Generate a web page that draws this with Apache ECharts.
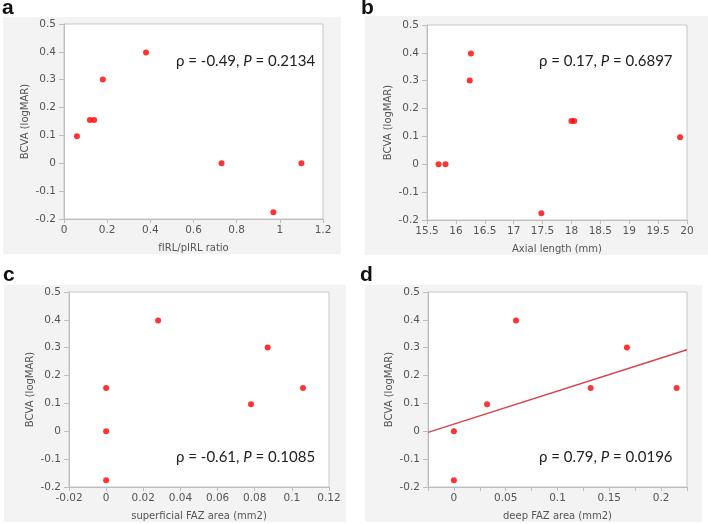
<!DOCTYPE html>
<html>
<head>
<meta charset="utf-8">
<script src="https://cdn.jsdelivr.net/npm/echarts@6/dist/echarts.min.js"></script>
<style>html,body{margin:0;padding:0;background:#fff;}#c{width:708px;height:524px;}</style>
</head>
<body>
<div id="c"></div>
<script>
// ---- data ----
const yTickMin = -0.2, yTickMax = 0.5, yTickStep = 0.1;
const yName = 'BCVA (logMAR)';

const aName = 'fIRL/pIRL ratio';
const aX = [0.06, 0.12, 0.14, 0.18, 0.38, 0.73, 0.97, 1.10];
const aY = [0.097, 0.155, 0.155, 0.301, 0.398, 0.0, -0.176, 0.0];
const aStat = ['-0.49', '0.2134'];

const bName = 'Axial length (mm)';
const bX = [15.70, 15.82, 16.24, 16.26, 17.48, 18.00, 18.05, 19.88];
const bY = [0.0, 0.0, 0.301, 0.398, -0.176, 0.155, 0.155, 0.097];
const bStat = ['0.17', '0.6897'];

const cName = 'superficial FAZ area (mm2)';
const cX = [0.0, 0.0, 0.0, 0.028, 0.078, 0.087, 0.106];
const cY = [0.155, 0.0, -0.176, 0.398, 0.097, 0.301, 0.155];
const cStat = ['-0.61', '0.1085'];

const dName = 'deep FAZ area (mm2)';
const dX = [0.0, 0.0, 0.032, 0.060, 0.132, 0.167, 0.215];
const dY = [0.0, -0.176, 0.097, 0.398, 0.155, 0.301, 0.155];
const dStat = ['0.79', '0.0196'];
const dFitX = [-0.025, 0.225];
const dFitY = [-0.004, 0.293];

const panelLetters = ['a', 'b', 'c', 'd'];

// ---- chart ----
const chart = echarts.init(document.getElementById('c'), null, {renderer: 'canvas'});
const axisGray = '#bdbdbd';
const labelStyle = {color: '#555', fontSize: 10.5, fontFamily: 'DejaVu Sans'};
const nameStyle = {color: '#555', fontSize: 10, fontFamily: 'DejaVu Sans'};

const grids = [
  {left: 64, top: 24, width: 259, height: 195},
  {left: 427, top: 25, width: 260, height: 195},
  {left: 69, top: 292, width: 260, height: 195},
  {left: 428, top: 292, width: 259, height: 195}
].map(g => Object.assign({show: true, backgroundColor: '#fff', borderColor: '#c8c8c8', borderWidth: 1, z: 2}, g));

function xAx(i, name, min, max, interval, fmt) {
  return {
    gridIndex: i, type: 'value', min: min, max: max, interval: interval,
    name: name, nameLocation: 'middle', nameGap: 24, nameTextStyle: nameStyle,
    axisLine: {show: true, onZero: false, lineStyle: {color: axisGray}},
    axisTick: {show: true, length: 4, lineStyle: {color: axisGray}},
    splitLine: {show: false},
    axisLabel: Object.assign({margin: 6, showMinLabel: true, showMaxLabel: true, formatter: fmt}, labelStyle),
    z: 3
  };
}
function yAx(i) {
  return {
    gridIndex: i, type: 'value', min: yTickMin, max: yTickMax, interval: yTickStep,
    name: yName, nameLocation: 'middle', nameGap: 34, nameTextStyle: nameStyle,
    axisLine: {show: true, onZero: false, lineStyle: {color: axisGray}},
    axisTick: {show: true, length: 5, lineStyle: {color: axisGray}},
    splitLine: {show: false},
    axisLabel: Object.assign({margin: 8}, labelStyle),
    z: 3
  };
}
const dFmt = function (v) {
  const k = Math.round(v / 0.05);
  if (Math.abs(k * 0.05 - v) > 1e-9 || v < -1e-9) return '';
  return String(+v.toFixed(3));
};

const xAxes = [
  xAx(0, aName, 0, 1.2, 0.2),
  xAx(1, bName, 15.5, 20, 0.5),
  xAx(2, cName, -0.02, 0.12, 0.02),
  xAx(3, dName, -0.025, 0.225, 0.025, dFmt)
];
const yAxes = [yAx(0), yAx(1), yAx(2), yAx(3)];

function pts(xs, ys) { return xs.map((x, k) => [x, ys[k]]); }
function scat(i, xs, ys) {
  return {type: 'scatter', xAxisIndex: i, yAxisIndex: i, data: pts(xs, ys), symbolSize: 6,
          itemStyle: {color: '#ff0000'}, z: 5, silent: true};
}
const series = [
  scat(0, aX, aY), scat(1, bX, bY), scat(2, cX, cY), scat(3, dX, dY),
  {type: 'line', xAxisIndex: 3, yAxisIndex: 3, data: pts(dFitX, dFitY), showSymbol: false,
   lineStyle: {color: '#d6434e', width: 1.5}, z: 4, silent: true, clip: true}
];

const bgRects = [
  [3, 17, 338, 237], [365, 16, 343, 239], [4, 285, 342, 237], [365, 285, 337, 237]
];
const letterPos = [[2, 19], [361, 19], [3, 286], [360, 286]];
const statPos = [[176, 61, aStat], [539, 61, bStat], [176, 457, cStat], [539, 457, dStat]];

const graphic = [];
bgRects.forEach(r => graphic.push({type: 'rect', shape: {x: r[0], y: r[1], width: r[2], height: r[3]},
  style: {fill: '#f3f3f3'}, z: -10, silent: true}));
letterPos.forEach((p, k) => graphic.push({type: 'text', x: p[0], y: p[1], z: 10,
  style: {text: panelLetters[k], fill: '#111', font: 'bold 21px "Liberation Sans", Arial, sans-serif',
          textVerticalAlign: 'bottom', verticalAlign: 'bottom'}}));
statPos.forEach(p => graphic.push({type: 'text', x: p[0], y: p[1], z: 10,
  style: {
    text: '{n|ρ = ' + p[2][0] + ', }{i|P}{n| = ' + p[2][1] + '}',
    verticalAlign: 'middle', textVerticalAlign: 'middle',
    rich: {
      n: {fontSize: 15, fontFamily: 'Lato', fill: '#222', color: '#222'},
      i: {fontSize: 15, fontFamily: 'Lato', fontStyle: 'italic', fill: '#222', color: '#222'}
    }
  }}));

chart.setOption({
  animation: false,
  backgroundColor: '#ffffff',
  grid: grids,
  xAxis: xAxes,
  yAxis: yAxes,
  series: series,
  graphic: graphic
});
</script>
</body>
</html>
